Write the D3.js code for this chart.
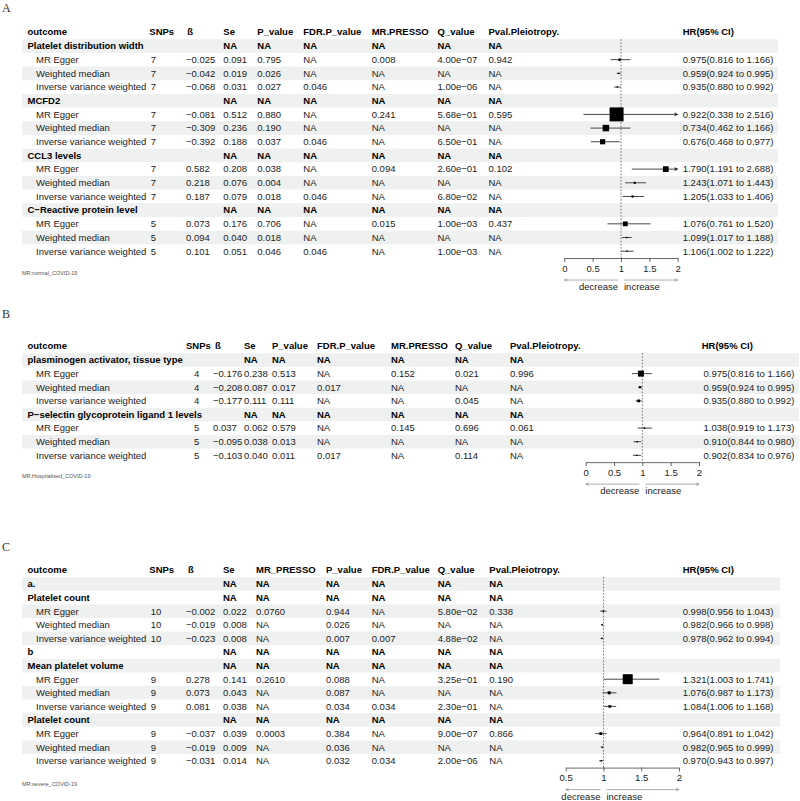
<!DOCTYPE html>
<html>
<head>
<meta charset="utf-8">
<style>
  body { margin: 0; background: #fff; }
  svg text { font-family: "Liberation Sans", Arial, sans-serif; }
</style>
</head>
<body>
<script src="https://cdn.jsdelivr.net/npm/d3@7"></script>
<script>
var W = 800, H = 801;

// ---------- A : MR normal_COVID-19 ----------
var aOutcome = ["Platelet distribution width", "MR Egger", "Weighted median", "Inverse variance weighted",
                "MCFD2", "MR Egger", "Weighted median", "Inverse variance weighted",
                "CCL3 levels", "MR Egger", "Weighted median", "Inverse variance weighted",
                "C−Reactive protein level", "MR Egger", "Weighted median", "Inverse variance weighted"];
var aSNPs = ["", "7", "7", "7", "", "7", "7", "7", "", "7", "7", "7", "", "5", "5", "5"];
var aBeta = [null, -0.025, -0.042, -0.068, null, -0.081, -0.309, -0.392, null, 0.582, 0.218, 0.187, null, 0.073, 0.094, 0.101];
var aSe = [null, 0.091, 0.019, 0.031, null, 0.512, 0.236, 0.188, null, 0.208, 0.076, 0.079, null, 0.176, 0.040, 0.051];
var aP = ["NA", "0.795", "0.026", "0.027", "NA", "0.880", "0.190", "0.037", "NA", "0.038", "0.004", "0.018", "NA", "0.706", "0.018", "0.046"];
var aFdr = ["NA", "NA", "NA", "0.046", "NA", "NA", "NA", "0.046", "NA", "NA", "NA", "0.046", "NA", "NA", "NA", "0.046"];
var aPresso = ["NA", "0.008", "NA", "NA", "NA", "0.241", "NA", "NA", "NA", "0.094", "NA", "NA", "NA", "0.015", "NA", "NA"];
var aQ = ["NA", "4.00e−07", "NA", "1.00e−06", "NA", "5.68e−01", "NA", "6.50e−01", "NA", "2.60e−01", "NA", "6.80e−02", "NA", "1.00e−03", "NA", "1.00e−03"];
var aPleio = ["NA", "0.942", "NA", "NA", "NA", "0.595", "NA", "NA", "NA", "0.102", "NA", "NA", "NA", "0.437", "NA", "NA"];
var aHR = [null, 0.975, 0.959, 0.935, null, 0.922, 0.734, 0.676, null, 1.790, 1.243, 1.205, null, 1.076, 1.099, 1.106];
var aLo = [null, 0.816, 0.924, 0.880, null, 0.338, 0.462, 0.468, null, 1.191, 1.071, 1.033, null, 0.761, 1.017, 1.002];
var aHi = [null, 1.166, 0.995, 0.992, null, 2.516, 1.166, 0.977, null, 2.688, 1.443, 1.406, null, 1.520, 1.188, 1.222];
var aTicks = [0, 0.5, 1, 1.5, 2];

// ---------- B : MR Hospitalised_COVID-19 ----------
var bOutcome = ["plasminogen activator, tissue type", "MR Egger", "Weighted median", "Inverse variance weighted",
                "P−selectin glycoprotein ligand 1 levels", "MR Egger", "Weighted median", "Inverse variance weighted"];
var bSNPs = ["", "4", "4", "4", "", "5", "5", "5"];
var bBeta = [null, -0.176, -0.208, -0.177, null, 0.037, -0.095, -0.103];
var bSe = [null, 0.238, 0.087, 0.111, null, 0.062, 0.038, 0.040];
var bP = ["NA", "0.513", "0.017", "0.111", "NA", "0.579", "0.013", "0.011"];
var bFdr = ["NA", "NA", "0.017", "NA", "NA", "NA", "NA", "0.017"];
var bPresso = ["NA", "0.152", "NA", "NA", "NA", "0.145", "NA", "NA"];
var bQ = ["NA", "0.021", "NA", "0.045", "NA", "0.696", "NA", "0.114"];
var bPleio = ["NA", "0.996", "NA", "NA", "NA", "0.061", "NA", "NA"];
var bHR = [null, 0.975, 0.959, 0.935, null, 1.038, 0.910, 0.902];
var bLo = [null, 0.816, 0.924, 0.880, null, 0.919, 0.844, 0.834];
var bHi = [null, 1.166, 0.995, 0.992, null, 1.173, 0.980, 0.976];
var bTicks = [0, 0.5, 1, 1.5, 2];

// ---------- C : MR severe_COVID-19 ----------
var cOutcome = ["a.", "Platelet count", "MR Egger", "Weighted median", "Inverse variance weighted",
                "b", "Mean platelet volume", "MR Egger", "Weighted median", "Inverse variance weighted",
                "Platelet count", "MR Egger", "Weighted median", "Inverse variance weighted"];
var cSNPs = ["", "", "10", "10", "10", "", "", "9", "9", "9", "", "9", "9", "9"];
var cBeta = [null, null, -0.002, -0.019, -0.023, null, null, 0.278, 0.073, 0.081, null, -0.037, -0.019, -0.031];
var cSe = [null, null, 0.022, 0.008, 0.008, null, null, 0.141, 0.043, 0.038, null, 0.039, 0.009, 0.014];
var cPresso = ["NA", "NA", "0.0760", "NA", "NA", "NA", "NA", "0.2610", "NA", "NA", "NA", "0.0003", "NA", "NA"];
var cP = ["NA", "NA", "0.944", "0.026", "0.007", "NA", "NA", "0.088", "0.087", "0.034", "NA", "0.384", "0.036", "0.032"];
var cFdr = ["NA", "NA", "NA", "NA", "0.007", "NA", "NA", "NA", "NA", "0.034", "NA", "NA", "NA", "0.034"];
var cQ = ["NA", "NA", "5.80e−02", "NA", "4.88e−02", "NA", "NA", "3.25e−01", "NA", "2.30e−01", "NA", "9.00e−07", "NA", "2.00e−06"];
var cPleio = ["NA", "NA", "0.338", "NA", "NA", "NA", "NA", "0.190", "NA", "NA", "NA", "0.866", "NA", "NA"];
var cHR = [null, null, 0.998, 0.982, 0.978, null, null, 1.321, 1.076, 1.084, null, 0.964, 0.982, 0.970];
var cLo = [null, null, 0.956, 0.966, 0.962, null, null, 1.003, 0.987, 1.006, null, 0.891, 0.965, 0.943];
var cHi = [null, null, 1.043, 0.998, 0.994, null, null, 1.741, 1.173, 1.168, null, 1.042, 0.999, 0.997];
var cTicks = [0.5, 1, 1.5, 2];

var f3 = d3.format(".3f");
var FS = 9.5;

var svg = d3.select("body").append("svg")
    .attr("width", W)
    .attr("height", H);

// arrowhead path pointing in dir (+1 right, -1 left) with tip at (x, y)
function arrowHead(x, y, dir, len, half) {
  return "M" + (x - dir * len) + "," + (y - half) + "L" + x + "," + y + "L" + (x - dir * len) + "," + (y + half);
}

function drawPanel(p) {
  var g = svg.append("g");
  var n = p.outcome.length;
  var rowY = function(i) { return p.row1 + i * p.rowH; };
  var isGroup = function(i) { return p.snps[i] === ""; };

  g.append("text")
    .attr("x", 2).attr("y", p.labelY)
    .attr("dy", "0.35em")
    .style("font-family", "'Liberation Serif', 'Times New Roman', serif")
    .style("font-size", "12px")
    .attr("fill", "#333")
    .text(p.label);

  // zebra bands
  g.selectAll("rect.band")
    .data(d3.range(n).filter(function(i) { return i % 2 === 0; }))
    .enter().append("rect")
    .attr("class", "band")
    .attr("x", p.band[0])
    .attr("width", p.band[1] - p.band[0])
    .attr("y", function(i) { return rowY(i) - p.rowH / 2; })
    .attr("height", p.rowH)
    .attr("fill", "#eff1f0");

  // header
  var headY = p.row1 - 14;
  p.cols.forEach(function(c) {
    g.append("text")
      .attr("x", c.x).attr("y", headY).attr("dy", "0.35em")
      .style("font-size", FS + "px").style("font-weight", "bold")
      .attr("fill", "#000")
      .text(c.title);
  });

  // body cells
  p.cols.forEach(function(c) {
    g.selectAll(null)
      .data(d3.range(n))
      .enter().append("text")
      .attr("x", function(i) { return c.indent && !isGroup(i) ? c.x + 8.5 : (c.vx != null ? c.vx : c.x); })
      .attr("y", function(i) { return rowY(i); })
      .attr("dy", "0.35em")
      .style("font-size", FS + "px")
      .style("font-weight", function(i) { return isGroup(i) ? "bold" : "normal"; })
      .attr("fill", function(i) { return isGroup(i) ? "#000" : "#222"; })
      .text(function(i) { return c.value(i); });
  });

  // forest
  var x = d3.scaleLinear().domain(p.domain).range(p.range);
  var lastY = rowY(n - 1) + p.rowH / 2;
  var pts = d3.range(n).filter(function(i) { return p.hr[i] != null; });
  var maxSe = d3.max(pts, function(i) { return p.se[i]; });
  var size = d3.scaleLinear().domain([0, maxSe]).range([0, p.boxMax]);

  g.append("line")
    .attr("x1", x(1)).attr("x2", x(1))
    .attr("y1", p.row1 - p.rowH / 2).attr("y2", lastY)
    .attr("stroke", "#555").attr("stroke-width", 0.8)
    .attr("stroke-dasharray", "1.6,1.6");

  var ci = g.selectAll("g.ci").data(pts).enter().append("g").attr("class", "ci");
  ci.append("line")
    .attr("x1", function(i) { return x(Math.max(p.lo[i], p.domain[0])); })
    .attr("x2", function(i) { return x(Math.min(p.hi[i], p.domain[1])); })
    .attr("y1", function(i) { return rowY(i); })
    .attr("y2", function(i) { return rowY(i); })
    .attr("stroke", "#333").attr("stroke-width", 0.9);
  ci.filter(function(i) { return p.hi[i] > p.domain[1]; })
    .append("path")
    .attr("d", function(i) { return arrowHead(x(p.domain[1]), rowY(i), 1, 3, 1.6); })
    .attr("fill", "#333").attr("stroke", "#333").attr("stroke-width", 0.6);
  ci.filter(function(i) { return p.lo[i] < p.domain[0]; })
    .append("path")
    .attr("d", function(i) { return arrowHead(x(p.domain[0]), rowY(i), -1, 3, 1.6); })
    .attr("fill", "#333").attr("stroke", "#333").attr("stroke-width", 0.6);
  ci.append("rect")
    .attr("x", function(i) { return x(p.hr[i]) - Math.max(size(p.se[i]), 1.4) / 2; })
    .attr("y", function(i) { return rowY(i) - Math.max(size(p.se[i]), 1.4) / 2; })
    .attr("width", function(i) { return Math.max(size(p.se[i]), 1.4); })
    .attr("height", function(i) { return Math.max(size(p.se[i]), 1.4); })
    .attr("fill", "#000");

  // x axis
  var ax = g.append("g")
    .attr("transform", "translate(0," + lastY + ")")
    .call(d3.axisBottom(x).tickValues(p.ticks).tickFormat(d3.format("~g")).tickSize(4).tickSizeOuter(0).tickPadding(3));
  ax.select(".domain").attr("stroke", "#444").attr("stroke-width", 0.8);
  ax.selectAll(".tick line").attr("stroke", "#444").attr("stroke-width", 0.8);
  ax.selectAll(".tick text").style("font-size", FS + "px").style("font-family", "'Liberation Sans', Arial, sans-serif").attr("fill", "#222");

  // decrease / increase arrows
  var ay = lastY + 22;
  var arrowCol = "#999";
  g.append("line").attr("x1", x(1) - 3).attr("x2", p.range[0]).attr("y1", ay).attr("y2", ay)
    .attr("stroke", arrowCol).attr("stroke-width", 0.8);
  g.append("line").attr("x1", x(1) + 3).attr("x2", p.range[1]).attr("y1", ay).attr("y2", ay)
    .attr("stroke", arrowCol).attr("stroke-width", 0.8);
  g.append("path").attr("d", arrowHead(p.range[0], ay, -1, 3, 1.3)).attr("fill", "none").attr("stroke", arrowCol).attr("stroke-width", 0.8);
  g.append("path").attr("d", arrowHead(p.range[1], ay, 1, 3, 1.3)).attr("fill", "none").attr("stroke", arrowCol).attr("stroke-width", 0.8);
  g.append("text").attr("x", x(1) - 3).attr("y", lastY + 29).attr("dy", "0.35em")
    .attr("text-anchor", "end").style("font-size", FS + "px").attr("fill", "#222").text("decrease");
  g.append("text").attr("x", x(1) + 3).attr("y", lastY + 29).attr("dy", "0.35em")
    .attr("text-anchor", "start").style("font-size", FS + "px").attr("fill", "#222").text("increase");

  // footnote
  g.append("text").attr("x", 22).attr("y", lastY + p.footDy).attr("dy", "0.35em")
    .style("font-size", "5.5px").attr("fill", "#555").text(p.foot);
}

function cols(o, s, b, se, extra, hr, lo, hi, pos) {
  var list = [
    { title: "outcome", x: pos.outcome, indent: true, value: function(i) { return o[i]; } },
    { title: "SNPs", x: pos.snps[0], vx: pos.snps[1], value: function(i) { return s[i]; } },
    { title: "ß", x: pos.beta[0], vx: pos.beta[1], value: function(i) { return b[i] == null ? "" : f3(b[i]); } },
    { title: "Se", x: pos.se, value: function(i) { return se[i] == null ? "NA" : f3(se[i]); } }
  ];
  extra.forEach(function(e) {
    list.push({ title: e[0], x: e[1], value: function(i) { return e[2][i]; } });
  });
  list.push({ title: "HR(95% CI)", x: pos.hr[0], vx: pos.hr[1], value: function(i) {
    return hr[i] == null ? "" : f3(hr[i]) + "(" + f3(lo[i]) + " to " + f3(hi[i]) + ")";
  } });
  return list;
}

drawPanel({
  label: "A", labelY: 8, row1: 46, rowH: 13.68, band: [22, 778],
  outcome: aOutcome, snps: aSNPs, se: aSe, hr: aHR, lo: aLo, hi: aHi,
  domain: [0, 2], range: [564.3, 677.7], ticks: aTicks, boxMax: 14,
  foot: "MR:normal_COVID-19", footDy: 15,
  cols: cols(aOutcome, aSNPs, aBeta, aSe,
    [["P_value", 257.3, aP], ["FDR.P_value", 303.3, aFdr], ["MR.PRESSO", 371.7, aPresso],
     ["Q_value", 437.5, aQ], ["Pval.Pleiotropy.", 488.5, aPleio]],
    aHR, aLo, aHi,
    { outcome: 27.5, snps: [149.3, 150.7], beta: [187.3, 186], se: 223.3, hr: [682.7, 682.7] })
});

drawPanel({
  label: "B", labelY: 314, row1: 360, rowH: 13.62, band: [22, 799],
  outcome: bOutcome, snps: bSNPs, se: bSe, hr: bHR, lo: bLo, hi: bHi,
  domain: [0, 2], range: [585.7, 699], ticks: bTicks, boxMax: 6,
  foot: "MR:Hospitalised_COVID-19", footDy: 14,
  cols: cols(bOutcome, bSNPs, bBeta, bSe,
    [["P_value", 272, bP], ["FDR.P_value", 317, bFdr], ["MR.PRESSO", 391, bPresso],
     ["Q_value", 455, bQ], ["Pval.Pleiotropy.", 510, bPleio]],
    bHR, bLo, bHi,
    { outcome: 27.5, snps: [186, 194], beta: [215, 213], se: 244, hr: [701.7, 703.5] })
});

drawPanel({
  label: "C", labelY: 547, row1: 584, rowH: 13.6, band: [22, 780],
  outcome: cOutcome, snps: cSNPs, se: cSe, hr: cHR, lo: cLo, hi: cHi,
  domain: [0.5, 2], range: [565.7, 679], ticks: cTicks, boxMax: 10,
  foot: "MR:severe_COVID-19", footDy: 16,
  cols: cols(cOutcome, cSNPs, cBeta, cSe,
    [["MR_PRESSO", 256, cPresso], ["P_value", 326, cP], ["FDR.P_value", 371.7, cFdr],
     ["Q_value", 437.7, cQ], ["Pval.Pleiotropy.", 489.3, cPleio]],
    cHR, cLo, cHi,
    { outcome: 27.5, snps: [149.3, 150.7], beta: [188, 186], se: 223, hr: [682.7, 682.7] })
});
</script>
</body>
</html>
